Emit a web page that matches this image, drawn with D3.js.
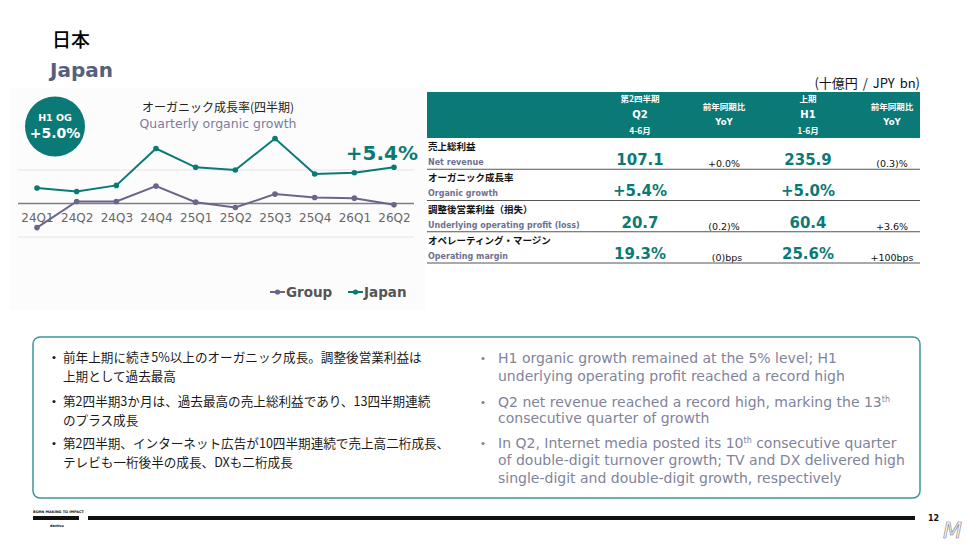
<!DOCTYPE html>
<html>
<head>
<meta charset="utf-8">
<script src="https://cdn.jsdelivr.net/npm/d3@7"></script>
<style>
  body { margin: 0; background: #fff; }
  svg { display: block; font-family: "DejaVu Sans", Verdana, sans-serif; }
  .jp { font-family: "Noto Sans CJK JP", sans-serif; }
</style>
</head>
<body>
<svg width="968" height="544"></svg>
<script>
// quarterly organic growth, %
const quarters = ['24Q1', '24Q2', '24Q3', '24Q4', '25Q1', '25Q2', '25Q3', '25Q4', '26Q1', '26Q2']
const japanOG = [2.3, 1.8, 2.7, 8.2, 5.4, 5.0, 9.7, 4.4, 4.6, 5.4]
const groupOG = [-3.6, 0.3, 0.3, 2.6, 0.2, -0.6, 1.4, 0.9, 0.8, -0.2]
const gridTicks = [-5, 0, 5]

// table
const rowsJa = ['売上総利益', 'オーガニック成長率', '調整後営業利益（損失）', 'オペレーティング・マージン']
const rowsEn = ['Net revenue', 'Organic growth', 'Underlying operating profit (loss)', 'Operating margin']
const q2Vals = ['107.1', '+5.4%', '20.7', '19.3%']
const q2YoY = ['+0.0%', '', '(0.2)%', '(0)bps']
const h1Vals = ['235.9', '+5.0%', '60.4', '25.6%']
const h1YoY = ['(0.3)%', '', '+3.6%', '+100bps']

const bulletsJa = [
    ['前年上期に続き5%以上のオーガニック成長。調整後営業利益は', '上期として過去最高'],
    ['第2四半期3か月は、過去最高の売上総利益であり、13四半期連続', 'のプラス成長'],
    ['第2四半期、インターネット広告が10四半期連続で売上高二桁成長、', 'テレビも一桁後半の成長、DXも二桁成長']
]
const bulletsEn = [
    ['H1 organic growth remained at the 5% level; H1', 'underlying operating profit reached a record high'],
    ['Q2 net revenue reached a record high, marking the 13|th', 'consecutive quarter of growth'],
    ['In Q2, Internet media posted its 10|th consecutive quarter', 'of double-digit turnover growth; TV and DX delivered high', 'single-digit and double-digit growth, respectively']
]

const teal = '#0b7a76'
const purple = '#6b6689'

const svg = d3.select('svg')

// titles
svg.append('text').attr('class', 'jp').attr('x', 52).attr('y', 47)
    .style('font-size', '19px').style('font-weight', 500).attr('fill', '#000').text('日本')
svg.append('text').attr('x', 50).attr('y', 77)
    .style('font-size', '20px').style('font-weight', 'bold').attr('fill', '#56607a').text('Japan')

// ---- chart ----
svg.append('rect').attr('x', 10).attr('y', 88).attr('width', 415).attr('height', 222).attr('fill', '#fcfcfc')

const xScale = d3.scalePoint().domain(quarters).range([37, 394])
const yScale = d3.scaleLinear().domain([-5, 10]).range([237, 136.5])

const chart = svg.append('g')

gridTicks.forEach(function (t) {
    chart.append('line')
        .attr('x1', 18).attr('x2', 414)
        .attr('y1', yScale(t)).attr('y2', yScale(t))
        .attr('stroke', t == 0 ? '#7f7f7f' : '#e4e4e4')
        .attr('stroke-width', t == 0 ? 1.6 : 1)
})

const xAxis = d3.axisBottom(xScale).tickSize(0).tickPadding(0)
const ax = chart.append('g').attr('transform', `translate(0,${yScale(0) + 10})`).call(xAxis)
ax.select('.domain').remove()
ax.selectAll('text').attr('dy', '0.71em').style('font-size', '12px').style('font-family', '"DejaVu Sans", sans-serif').attr('fill', '#666')

const line = d3.line().x((d, i) => xScale(quarters[i])).y(d => yScale(d))

function drawSeries(vals, color) {
    chart.append('path').datum(vals)
        .attr('d', line).attr('fill', 'none')
        .attr('stroke', color).attr('stroke-width', 2)
    chart.selectAll(null).data(vals).enter()
        .append('circle')
        .attr('cx', (d, i) => xScale(quarters[i]))
        .attr('cy', d => yScale(d))
        .attr('r', 2.8)
        .attr('fill', color)
}
drawSeries(groupOG, purple)
drawSeries(japanOG, teal)

chart.append('text').attr('x', 418).attr('y', 160).attr('text-anchor', 'end')
    .style('font-size', '20px').style('font-weight', 'bold').attr('fill', teal)
    .text('+' + japanOG[japanOG.length - 1].toFixed(1) + '%')

chart.append('text').attr('class', 'jp').attr('x', 218).attr('y', 112).attr('text-anchor', 'middle')
    .style('font-size', '12px').attr('fill', '#222').text('オーガニック成長率(四半期)')
chart.append('text').attr('x', 218).attr('y', 128).attr('text-anchor', 'middle')
    .style('font-size', '12.5px').attr('fill', '#7e7b9c').text('Quarterly organic growth')

// H1 OG bubble
chart.append('circle').attr('cx', 55).attr('cy', 126.5).attr('r', 30).attr('fill', teal)
chart.append('text').attr('x', 55).attr('y', 121).attr('text-anchor', 'middle')
    .style('font-size', '9.5px').style('font-weight', 'bold').attr('fill', '#fff').text('H1 OG')
chart.append('text').attr('x', 55).attr('y', 138).attr('text-anchor', 'middle')
    .style('font-size', '14px').style('font-weight', 'bold').attr('fill', '#fff').text(h1Vals[1])

// legend
const legend = [['Group', purple, 270], ['Japan', teal, 348]]
legend.forEach(function (l) {
    const g = chart.append('g').attr('transform', `translate(${l[2]},292)`)
    g.append('line').attr('x1', 0).attr('x2', 15).attr('stroke', l[1]).attr('stroke-width', 2)
    g.append('circle').attr('cx', 7.5).attr('r', 2.6).attr('fill', l[1])
    g.append('text').attr('x', 16).attr('y', 5).style('font-size', '13.5px').style('font-weight', 'bold')
        .attr('fill', '#555').text(l[0])
})

// ---- table ----
const tbl = svg.append('g')
tbl.append('text').attr('class', 'jp').attr('x', 920).attr('y', 88).attr('text-anchor', 'end')
    .style('font-size', '13px').style('word-spacing', '2px').attr('fill', '#111').text('(十億円 / JPY bn)')
tbl.append('rect').attr('x', 427).attr('y', 92).attr('width', 493).attr('height', 46).attr('fill', teal)

const colX = [640, 724, 808, 892]
const headers = [['第2四半期', 'Q2', '4-6月'], ['前年同期比', 'YoY'], ['上期', 'H1', '1-6月'], ['前年同期比', 'YoY']]
headers.forEach(function (h, i) {
    const ys = h.length == 3 ? [102, 118, 134] : [110, 125]
    h.forEach(function (t, j) {
        tbl.append('text').attr('class', /[^\x00-\x7f]/.test(t) ? 'jp' : null)
            .attr('x', colX[i]).attr('y', ys[j]).attr('text-anchor', 'middle')
            .style('font-size', (j == 1 && h.length == 3) ? '10px' : '8.5px').style('font-weight', 'bold')
            .attr('fill', '#fff').text(t)
    })
})

const rowTop = d3.scaleLinear().domain([0, 4]).range([138, 263])
rowsJa.forEach(function (r, i) {
    const y0 = rowTop(i)
    tbl.append('text').attr('class', 'jp').attr('x', 428).attr('y', y0 + 12)
        .style('font-size', '9.5px').style('font-weight', 'bold').attr('fill', '#111').text(r)
    tbl.append('text').attr('x', 428).attr('y', y0 + 27)
        .style('font-size', '8px').style('font-weight', 'bold').attr('fill', '#6d7190').text(rowsEn[i])
    ;[[q2Vals[i], 0], [h1Vals[i], 2]].forEach(function (v) {
        tbl.append('text').attr('x', colX[v[1]]).attr('y', y0 + 27).attr('text-anchor', 'middle')
            .style('font-size', '15px').style('font-weight', 'bold').attr('fill', teal).text(v[0])
    })
    ;[[q2YoY[i], 1], [h1YoY[i], 3]].forEach(function (v) {
        tbl.append('text').attr('x', colX[v[1]] + (v[0] == '(0)bps' ? 3 : 0)).attr('y', y0 + 29).attr('text-anchor', 'middle')
            .style('font-size', '9.5px').attr('fill', '#111').text(v[0])
    })
    tbl.append('line').attr('x1', 427).attr('x2', 920).attr('y1', rowTop(i + 1)).attr('y2', rowTop(i + 1))
        .attr('stroke', '#555').attr('stroke-width', 1)
})

// ---- comment box ----
svg.append('rect').attr('x', 33).attr('y', 337).attr('width', 887).attr('height', 161).attr('rx', 7)
    .attr('fill', '#fff').attr('stroke', '#3d9897').attr('stroke-width', 1.5)

const jaY = [[362, 381], [406, 425], [448, 467]]
bulletsJa.forEach(function (b, i) {
    svg.append('circle').attr('cx', 54).attr('cy', jaY[i][0] - 4.5).attr('r', 1.6).attr('fill', '#222')
    b.forEach(function (t, j) {
        svg.append('text').attr('class', 'jp').attr('x', 63).attr('y', jaY[i][j])
            .style('font-size', '12.6px').attr('fill', '#1a1a1a').text(t)
    })
})

const enY = [[363, 381], [407, 423], [448, 465, 483]]
bulletsEn.forEach(function (b, i) {
    svg.append('circle').attr('cx', 483).attr('cy', enY[i][0] - 4.5).attr('r', 1.6).attr('fill', '#7f849a')
    b.forEach(function (t, j) {
        const parts = t.split('|')
        const tx = svg.append('text').attr('x', 498).attr('y', enY[i][j])
            .style('font-size', '14px').attr('fill', '#7f849a')
        parts.forEach(function (p, k) {
            if (k == 0) {
                tx.append('tspan').text(p)
            } else {
                const sup = p.slice(0, 2)
                tx.append('tspan').attr('dy', -5).style('font-size', '8px').text(sup)
                tx.append('tspan').attr('dy', 5).text(p.slice(2))
            }
        })
    })
})

// ---- footer ----
svg.append('rect').attr('x', 33).attr('y', 516).attr('width', 46).attr('height', 4).attr('fill', '#111')
svg.append('text').attr('x', 33).attr('y', 513).style('font-size', '3.5px').style('font-weight', 'bold').attr('fill', '#111').text('BORN MAKING TO IMPACT')
svg.append('text').attr('x', 50).attr('y', 527).style('font-size', '3.5px').style('font-weight', 'bold').attr('fill', '#111').text('dentsu')
svg.append('rect').attr('x', 88).attr('y', 516).attr('width', 827).attr('height', 4).attr('fill', '#111')
svg.append('text').attr('x', 928).attr('y', 521).style('font-size', '8px').style('font-weight', 'bold').attr('fill', '#111').text('12')
svg.append('text').attr('x', 943).attr('y', 538).style('font-size', '22px').style('font-style', 'italic')
    .attr('fill', 'none').attr('stroke', '#888').attr('stroke-width', 0.7).text('M')
</script>
</body>
</html>
